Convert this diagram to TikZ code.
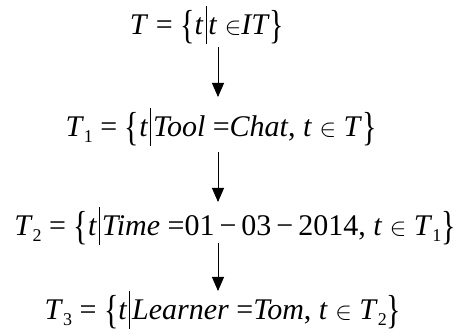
\documentclass[tikz,border=0pt]{standalone}
\usepackage{fontspec}
\usepackage{graphicx}
\setmainfont{Liberation Serif}
\usetikzlibrary{arrows.meta}
\newcommand\lb{\raisebox{-4pt}{\scalebox{1}[1.35]{\{}}}
\newcommand\rb{\raisebox{-4pt}{\scalebox{1}[1.35]{\}}}}
\newcommand\vb{\kern2pt\rule[-9pt]{0.8pt}{38pt}\kern2pt}
\newcommand\sbs[1]{\raisebox{-6pt}{\fontsize{18}{18}\selectfont #1}}
\newcommand\elem{$\in$}
\tikzset{
  eq/.style={anchor=base, inner sep=0pt, font=\fontsize{30}{32}\selectfont},
  arr/.style={line width=0.9pt, -{Triangle[length=14pt,width=12pt]}}
}
\begin{document}
\begin{tikzpicture}[x=1pt,y=-1pt]
\useasboundingbox (0,0) rectangle (456,336);
\node[eq] (a) at (207,35) {\textit{T} = \lb\textit{t}\vb\textit{t} \elem\textit{IT}\rb};
\node[eq] (b) at (221,137) {\textit{T}\sbs{1} = \lb\textit{t}\vb\textit{Tool} =\textit{Chat}, \textit{t} \elem\ \textit{T}\rb};
\node[eq] (c) at (235,236) {\textit{T}\sbs{2} = \lb\textit{t}\vb\textit{Time} =01\,−\,03\,−\,2014, \textit{t} \elem\ \textit{T}\sbs{1}\rb};
\node[eq] (d) at (223,320) {\textit{T}\sbs{3} = \lb\textit{t}\vb\textit{Learner} =\textit{Tom}, \textit{t} \elem\ \textit{T}\sbs{2}\rb};
\coordinate (a1) at (218,47);
\coordinate (b0) at (218,97);
\coordinate (b1) at (218,152);
\coordinate (c0) at (218,202);
\coordinate (c1) at (218,243);
\coordinate (d0) at (218,291);
\draw[arr] (a1) -- (b0);
\draw[arr] (b1) -- (c0);
\draw[arr] (c1) -- (d0);
\end{tikzpicture}
\end{document}
